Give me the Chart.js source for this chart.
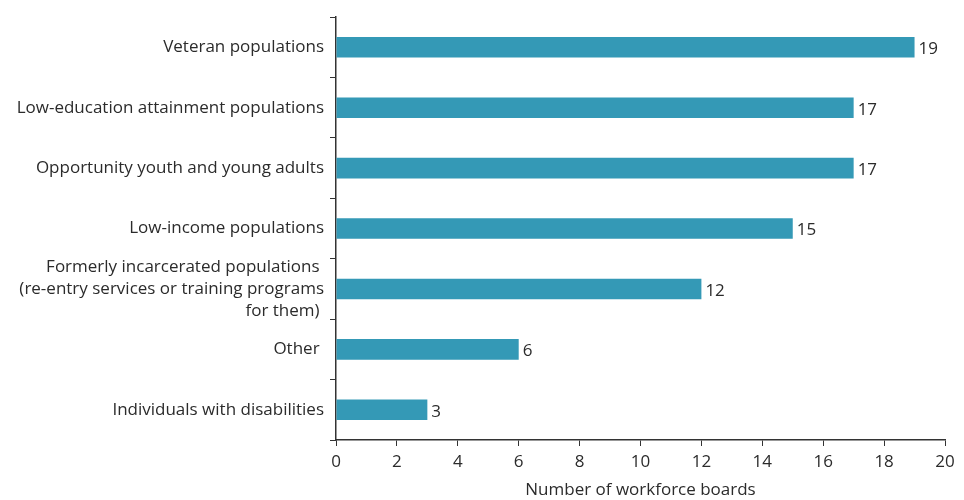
<!DOCTYPE html>
<html lang="en">
<head>
    <meta charset="UTF-8">
    <title>Workforce boards by population served</title>
    <script src="https://cdn.jsdelivr.net/npm/chart.js"></script>
    <style>
        html, body {
            margin: 0;
            padding: 0;
            background: #ffffff;
        }
        .chart-box {
            width: 964px;
            height: 500px;
        }
    </style>
</head>
<body>
    <div class="chart-box">
        <canvas id="popChart" width="964" height="500"></canvas>
    </div>

    <script>
        // data
        const categories = [
            'Veteran populations',
            'Low-education attainment populations',
            'Opportunity youth and young adults',
            'Low-income populations',
            ['Formerly incarcerated populations ', '(re-entry services or training programs', 'for them) '],
            'Other ',
            'Individuals with disabilities'
        ];
        const boardCounts = [19, 17, 17, 15, 12, 6, 3];
        const xTicks = [0, 2, 4, 6, 8, 10, 12, 14, 16, 18, 20];

        const FONT = '"Open Sans", sans-serif';
        const TEXT = '#2b2b2b';

        // value label at the end of each bar
        const valueLabels = {
            id: 'valueLabels',
            afterDatasetsDraw(chart) {
                const ctx = chart.ctx;
                const meta = chart.getDatasetMeta(0);
                ctx.save();
                ctx.font = '17px ' + FONT;
                ctx.fillStyle = TEXT;
                ctx.textAlign = 'left';
                ctx.textBaseline = 'middle';
                meta.data.forEach((bar, i) => {
                    ctx.fillText(String(boardCounts[i]), bar.x + 4, bar.y + 2);
                });
                ctx.restore();
            }
        };

        const ctx = document.getElementById('popChart').getContext('2d');
        new Chart(ctx, {
            type: 'bar',
            data: {
                labels: categories,
                datasets: [{
                    data: boardCounts,
                    backgroundColor: '#3499b6',
                    borderWidth: 0,
                    barPercentage: 0.34,
                    categoryPercentage: 1.0
                }]
            },
            options: {
                indexAxis: 'y',
                responsive: false,
                animation: false,
                layout: {
                    padding: { top: 15, right: 19, left: 0, bottom: 0 }
                },
                plugins: {
                    legend: { display: false },
                    tooltip: { enabled: false }
                },
                scales: {
                    x: {
                        min: 0,
                        max: 20,
                        afterBuildTicks(scale) {
                            scale.ticks = xTicks.map(v => ({ value: v }));
                        },
                        afterFit(scale) {
                            scale.height = 60;
                        },
                        grid: {
                            drawOnChartArea: false,
                            tickLength: 6,
                            color: '#333333'
                        },
                        border: { color: '#333333', width: 1.5 },
                        ticks: {
                            font: { family: FONT, size: 17 },
                            color: TEXT,
                            padding: 6,
                            maxRotation: 0
                        },
                        title: {
                            display: true,
                            text: 'Number of workforce boards',
                            font: { family: FONT, size: 17 },
                            color: TEXT,
                            padding: { top: 8, bottom: 0 }
                        }
                    },
                    y: {
                        afterFit(scale) {
                            scale.width = 336;
                        },
                        grid: {
                            drawOnChartArea: false,
                            tickLength: 6,
                            color: '#333333',
                            offset: true
                        },
                        border: { color: '#333333', width: 1.5 },
                        ticks: {
                            font: { family: FONT, size: 17, lineHeight: 1.3 },
                            color: TEXT,
                            padding: 6,
                            autoSkip: false
                        }
                    }
                }
            },
            plugins: [valueLabels]
        });
    </script>
</body>
</html>
